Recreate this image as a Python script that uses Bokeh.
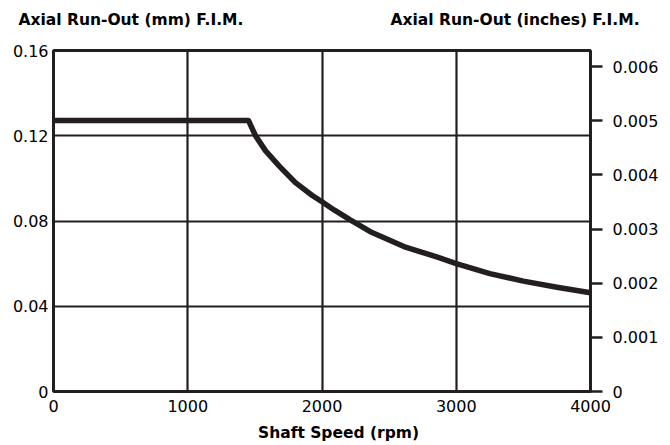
from bokeh.plotting import figure
from bokeh.models import Range1d, LinearAxis, FixedTicker, AllLabels
from bokeh.embed import file_html
from bokeh.resources import INLINE

# ---- data ----
speed_rpm = [0, 1452, 1505, 1580, 1680, 1800, 1925, 2000, 2090, 2210, 2360, 2610, 2860, 3000,
             3250, 3500, 3750, 4000]
runout_mm = [0.1272, 0.1272, 0.1200, 0.1129, 0.1059, 0.0981, 0.0921, 0.0890, 0.0852, 0.0805, 0.0750,
             0.0680, 0.0630, 0.0600, 0.0553, 0.0518, 0.0489, 0.0463]

x_ticks = [0, 1000, 2000, 3000, 4000]
x_tick_labels = ["0", "1000", "2000", "3000", "4000"]
mm_ticks = [0, 0.04, 0.08, 0.12, 0.16]
mm_tick_labels = ["0", "0.04", "0.08", "0.12", "0.16"]
in_ticks = [0, 0.001, 0.002, 0.003, 0.004, 0.005, 0.006]
in_tick_labels = ["0", "0.001", "0.002", "0.003", "0.004", "0.005", "0.006"]

title_left = "Axial Run-Out (mm) F.I.M."
title_right = "Axial Run-Out (inches) F.I.M."
x_title = "Shaft Speed (rpm)"

MM_PER_INCH = 25.4
DARK = "#231f20"
FONT = "DejaVu Sans"

# layout anchors (x positions, in rpm, where the header texts are centred)
LEFT_TITLE_AT = 577
RIGHT_TITLE_AT = 3438
X_TITLE_AT = 2123

p = figure(width=670, height=445, output_backend="svg", toolbar_location=None,
           x_range=Range1d(0, 4000), y_range=Range1d(0, 0.16),
           min_border_left=53, min_border_right=80, min_border_top=50, min_border_bottom=54)
p.extra_y_ranges = {"in": Range1d(0, 0.16 / MM_PER_INCH)}

p.outline_line_color = DARK
p.outline_line_width = 3
p.background_fill_color = "white"
p.border_fill_color = "white"


def plain(ax):
    ax.axis_line_color = None
    ax.major_tick_line_color = None
    ax.minor_tick_line_color = None
    ax.major_tick_out = 0
    ax.major_tick_in = 0
    ax.major_label_text_font = FONT
    ax.major_label_text_font_size = "16px"
    ax.major_label_text_color = "black"
    ax.major_label_policy = AllLabels()


# axes
p.xaxis.ticker = FixedTicker(ticks=x_ticks)
p.xaxis.major_label_overrides = {t: l for t, l in zip(x_ticks, x_tick_labels)}
p.yaxis.ticker = FixedTicker(ticks=mm_ticks)
p.yaxis.major_label_overrides = {t: l for t, l in zip(mm_ticks, mm_tick_labels)}
plain(p.xaxis[0])
plain(p.yaxis[0])
p.xaxis.major_label_standoff = 8
p.yaxis.major_label_standoff = 5

rax = LinearAxis(y_range_name="in", ticker=FixedTicker(ticks=in_ticks))
rax.major_label_overrides = {t: l for t, l in zip(in_ticks, in_tick_labels)}
plain(rax)
rax.major_tick_line_color = DARK
rax.major_tick_line_width = 2.5
rax.major_tick_out = 12
rax.major_label_standoff = 10
p.add_layout(rax, "right")

# header texts (as horizontal labels of an otherwise invisible top axis)
tax = LinearAxis(ticker=FixedTicker(ticks=[LEFT_TITLE_AT, RIGHT_TITLE_AT]))
tax.major_label_overrides = {LEFT_TITLE_AT: title_left, RIGHT_TITLE_AT: title_right}
plain(tax)
tax.major_label_text_font_style = "bold"
tax.major_label_text_font_size = "15.5px"
tax.major_label_standoff = 22
p.add_layout(tax, "above")

# x-axis title
bax = LinearAxis(ticker=FixedTicker(ticks=[X_TITLE_AT]))
bax.major_label_overrides = {X_TITLE_AT: x_title}
plain(bax)
bax.major_label_text_font_style = "bold"
bax.major_label_text_font_size = "15.5px"
bax.major_label_standoff = 9
p.add_layout(bax, "below")

# grid
p.xgrid.ticker = FixedTicker(ticks=x_ticks)
p.ygrid.ticker = FixedTicker(ticks=mm_ticks)
for g in (p.xgrid[0], p.ygrid[0]):
    g.grid_line_color = DARK
    g.grid_line_width = 2.2

# curve
p.line(speed_rpm, runout_mm, line_color=DARK, line_width=5.5, line_join="round")

open("out.html", "w").write(file_html(p, INLINE))
